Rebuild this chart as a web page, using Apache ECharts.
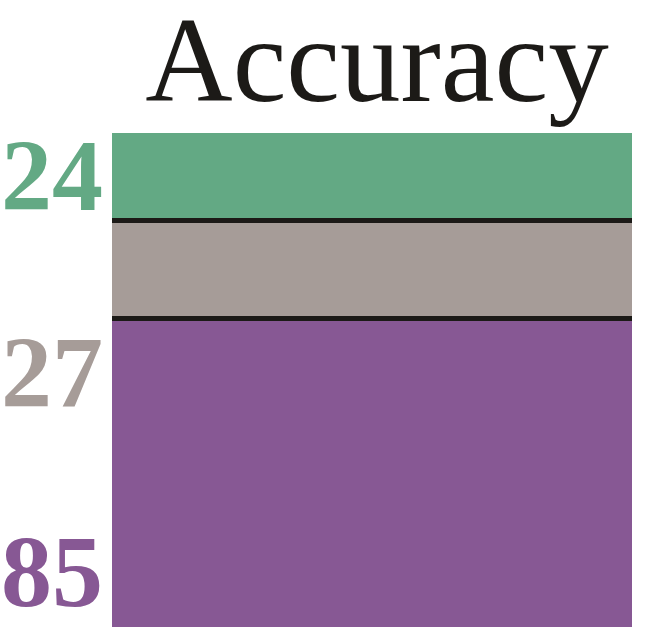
<!DOCTYPE html>
<html>
<head>
<meta charset="utf-8">
<script src="https://cdn.jsdelivr.net/npm/echarts@6/dist/echarts.min.js"></script>
<style>
  html, body { margin: 0; padding: 0; background: #fff; }
  #main { width: 664px; height: 632px; }
</style>
</head>
<body>
<div id="main"></div>
<script>
// stacked accuracy bar, top to bottom
const names = ['A', 'B', 'C']
const values = [24, 27, 85]
const colors = ['#63a984', '#a69c98', '#875894']
// label nudges (px) – labels in the source don't sit at segment centres
const labelOffsets = [[0, 7], [0, 111], [0, 107]]

const serif = '"Liberation Serif", "Times New Roman", Times, serif'

const total = values.reduce((a, b) => a + b, 0)
// boundaries between segments get a thick black rule
const splits = []
let acc = 0
for (let i = 0; i < values.length - 1; i++) {
  acc += values[i]
  splits.push(acc)
}

const chart = echarts.init(document.getElementById('main'))

const series = values.map((v, i) => ({
  name: names[i],
  type: 'bar',
  stack: 'all',
  barWidth: '100%',
  data: [v],
  itemStyle: { color: colors[i] },
  label: {
    show: true,
    position: 'left',
    distance: 9,
    offset: labelOffsets[i],
    formatter: '{c}',
    color: colors[i],
    fontFamily: serif,
    fontWeight: 'bold',
    fontSize: 102,
  },
  silent: true,
  z: 2,
}))

// separators
series[0].markLine = {
  silent: true,
  symbol: ['none', 'none'],
  label: { show: false },
  lineStyle: { color: '#1c1a17', width: 5, type: 'solid' },
  data: splits.map((s) => ({ yAxis: s })),
  z: 5,
}

chart.setOption({
  animation: false,
  title: {
    text: 'Accuracy',
    left: 372,
    textAlign: 'center',
    top: 4,
    textStyle: {
      fontFamily: serif,
      fontWeight: 'normal',
      fontSize: 121,
      color: '#1c1a17',
    },
  },
  grid: { left: 112, right: 32, top: 133, bottom: 5 },
  xAxis: {
    type: 'category',
    data: ['Accuracy'],
    show: false,
  },
  yAxis: {
    type: 'value',
    min: 0,
    max: total,
    inverse: true,
    show: false,
  },
  series: series,
})
</script>
</body>
</html>
